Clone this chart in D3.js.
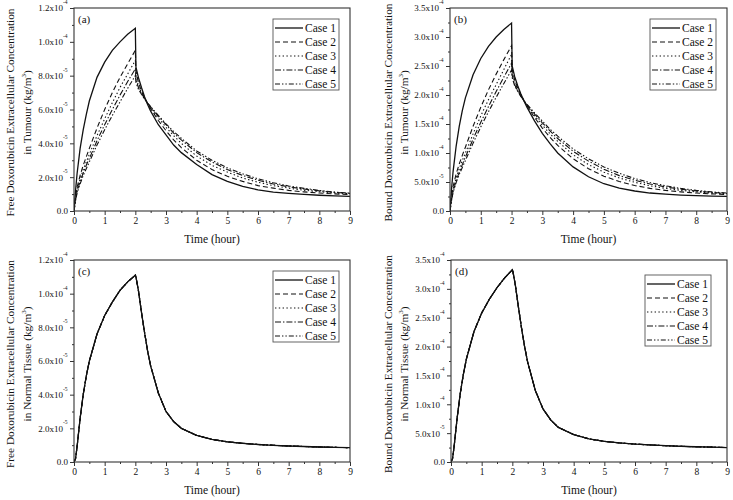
<!DOCTYPE html>
<html>
<head>
<meta charset="utf-8">
<script src="https://cdn.jsdelivr.net/npm/d3@7"></script>
<style>
  html, body { margin: 0; padding: 0; background: #fff; }
  svg { display: block; }
  text { font-family: "Liberation Serif", "Times New Roman", serif; fill: #111; font-weight: normal; }
</style>
</head>
<body>
<svg id="chart" width="733" height="500"></svg>
<script>
// ---------------- DATA (concentrations in units of 1e-5 kg/m^3) ----------------
const times = [0, 0.05, 0.1, 0.2, 0.3, 0.4, 0.5, 0.75, 1, 1.25, 1.5, 1.75, 2,
  2.02, 2.1, 2.2, 2.3, 2.4, 2.5, 2.75, 3, 3.25, 3.5, 4, 4.5, 5, 5.5, 6, 6.5, 7, 7.5, 8, 8.5, 9];

const caseNames = ["Case 1", "Case 2", "Case 3", "Case 4", "Case 5"];

// (a) Free doxorubicin, tumour
const freeTumour1 = [0, 1.2, 2.2, 3.7, 4.8, 5.7, 6.5, 7.9, 8.8, 9.5, 10.0, 10.45, 10.8,
  8.5, 7.9, 7.3, 6.75, 6.3, 5.9, 5.1, 4.5, 3.9, 3.45, 2.75, 2.15, 1.75, 1.45, 1.25, 1.12, 1.04, 0.98, 0.93, 0.9, 0.87];
const freeTumour2 = [0, 0.8, 1.4, 2.1, 2.7, 3.2, 3.7, 4.9, 6.0, 7.0, 7.9, 8.7, 9.5,
  8.3, 7.6, 7.1, 6.7, 6.35, 6.05, 5.35, 4.75, 4.2, 3.75, 3.0, 2.45, 2.05, 1.75, 1.5, 1.35, 1.22, 1.13, 1.06, 1.01, 0.97];
const freeTumour3 = [0, 0.7, 1.25, 1.9, 2.45, 2.9, 3.35, 4.45, 5.45, 6.4, 7.3, 8.1, 8.9,
  8.0, 7.4, 7.0, 6.65, 6.35, 6.1, 5.5, 4.95, 4.45, 4.0, 3.25, 2.7, 2.3, 1.95, 1.7, 1.5, 1.35, 1.23, 1.14, 1.07, 1.02];
const freeTumour4 = [0, 0.65, 1.15, 1.75, 2.25, 2.7, 3.1, 4.15, 5.1, 6.0, 6.85, 7.65, 8.4,
  7.8, 7.3, 6.95, 6.65, 6.38, 6.15, 5.6, 5.1, 4.6, 4.2, 3.45, 2.9, 2.45, 2.1, 1.82, 1.6, 1.43, 1.3, 1.19, 1.1, 1.04];
const freeTumour5 = [0, 0.6, 1.05, 1.6, 2.1, 2.5, 2.9, 3.9, 4.8, 5.65, 6.45, 7.25, 8.0,
  7.6, 7.2, 6.9, 6.62, 6.38, 6.17, 5.65, 5.15, 4.7, 4.3, 3.55, 3.0, 2.55, 2.2, 1.9, 1.67, 1.48, 1.34, 1.22, 1.12, 1.05];

// (b) Bound doxorubicin, tumour
const boundTumour1 = [0, 3.8, 6.8, 11.2, 14.6, 17.3, 19.5, 23.5, 26.3, 28.4, 30.0, 31.3, 32.4,
  25.0, 23.2, 21.6, 20.2, 19.0, 17.9, 15.5, 13.4, 11.6, 10.0, 7.6, 5.9, 4.7, 3.95, 3.45, 3.1, 2.9, 2.75, 2.65, 2.58, 2.52];
const boundTumour2 = [0, 2.4, 4.2, 6.4, 8.1, 9.6, 11.0, 14.6, 17.9, 20.9, 23.6, 26.1, 28.5,
  24.5, 22.6, 21.2, 20.1, 19.1, 18.2, 16.1, 14.3, 12.7, 11.3, 9.0, 7.3, 6.0, 5.1, 4.4, 3.9, 3.55, 3.3, 3.1, 2.95, 2.85];
const boundTumour3 = [0, 2.1, 3.7, 5.7, 7.3, 8.7, 10.0, 13.3, 16.4, 19.2, 21.8, 24.4, 27.0,
  24.0, 22.2, 20.9, 19.9, 19.0, 18.2, 16.4, 14.8, 13.3, 12.0, 9.7, 8.0, 6.7, 5.7, 4.95, 4.35, 3.9, 3.55, 3.3, 3.1, 2.95];
const boundTumour4 = [0, 1.9, 3.4, 5.2, 6.7, 8.0, 9.3, 12.4, 15.3, 18.0, 20.6, 23.1, 25.5,
  23.4, 21.8, 20.7, 19.8, 19.0, 18.3, 16.7, 15.2, 13.8, 12.5, 10.3, 8.6, 7.2, 6.1, 5.3, 4.65, 4.15, 3.75, 3.45, 3.2, 3.02];
const boundTumour5 = [0, 1.8, 3.2, 4.9, 6.3, 7.5, 8.7, 11.7, 14.5, 17.1, 19.6, 22.0, 24.3,
  23.0, 21.6, 20.6, 19.8, 19.05, 18.4, 16.9, 15.5, 14.1, 12.9, 10.7, 9.0, 7.6, 6.5, 5.6, 4.9, 4.35, 3.9, 3.55, 3.3, 3.1];

// (c) Free doxorubicin, normal tissue (all five cases coincide)
const freeNormal = [0, 0.2, 0.9, 2.6, 4.0, 5.1, 6.0, 7.6, 8.7, 9.5, 10.2, 10.7, 11.1,
  11.0, 10.2, 8.9, 7.7, 6.6, 5.7, 4.1, 3.0, 2.4, 2.0, 1.58, 1.34, 1.2, 1.11, 1.04, 0.99, 0.95, 0.92, 0.89, 0.87, 0.85];

// (d) Bound doxorubicin, normal tissue (all five cases coincide)
const boundNormal = [0, 0.6, 2.6, 7.6, 11.8, 15.1, 17.8, 22.6, 25.8, 28.2, 30.2, 31.9, 33.3,
  33.0, 30.6, 26.8, 23.2, 20.0, 17.3, 12.4, 9.2, 7.3, 6.0, 4.75, 4.0, 3.58, 3.3, 3.1, 2.95, 2.82, 2.72, 2.64, 2.57, 2.5];

// Tick values / labels
const xTicks = [0, 1, 2, 3, 4, 5, 6, 7, 8, 9];
const xMinorTicks = [0.5, 1.5, 2.5, 3.5, 4.5, 5.5, 6.5, 7.5, 8.5];

const yTicksFree = [0, 2, 4, 6, 8, 10, 12];
const yMantFree = ["0.0", "2.0x10", "4.0x10", "6.0x10", "8.0x10", "1.0x10", "1.2x10"];
const yExpFree = ["", "-5", "-5", "-5", "-5", "-4", "-4"];
const yMinorFree = [1, 3, 5, 7, 9, 11];

const yTicksBound = [0, 5, 10, 15, 20, 25, 30, 35];
const yMantBound = ["0.0", "5.0x10", "1.0x10", "1.5x10", "2.0x10", "2.5x10", "3.0x10", "3.5x10"];
const yExpBound = ["", "-5", "-4", "-4", "-4", "-4", "-4", "-4"];
const yMinorBound = [2.5, 7.5, 12.5, 17.5, 22.5, 27.5, 32.5];

// ---------------- STYLE / LAYOUT ----------------
const dashes = [null, "5,3", "1.4,2.4", "6,2,1.4,2", "5,2,1.4,2,1.4,2"];
const fontStack = '"Liberation Serif", "Times New Roman", serif';

const panels = [
  { label: "(a)", qx: 0, qy: 0, L: 74, R: 350, T: 8, B: 211, yMax: 12,
    ticks: yTicksFree, mant: yMantFree, exp: yExpFree, minor: yMinorFree,
    title1: "Free Doxorubicin Extracellular Concentration", title2: "in Tumour (kg/m",
    t1x: 10, t2x: 27, legend: [273, 19],
    series: [freeTumour1, freeTumour2, freeTumour3, freeTumour4, freeTumour5] },
  { label: "(b)", qx: 366, qy: 0, L: 450, R: 727, T: 8, B: 211, yMax: 35,
    ticks: yTicksBound, mant: yMantBound, exp: yExpBound, minor: yMinorBound,
    title1: "Bound Doxorubicin Extracellular Concentration", title2: "in Tumour (kg/m",
    t1x: 388, t2x: 404, legend: [650, 19],
    series: [boundTumour1, boundTumour2, boundTumour3, boundTumour4, boundTumour5] },
  { label: "(c)", qx: 0, qy: 250, L: 74, R: 350, T: 260, B: 462, yMax: 12,
    ticks: yTicksFree, mant: yMantFree, exp: yExpFree, minor: yMinorFree,
    title1: "Free Doxorubicin Extracellular Concentration", title2: "in Normal Tissue (kg/m",
    t1x: 10, t2x: 27, legend: [273, 271],
    series: [freeNormal, freeNormal, freeNormal, freeNormal, freeNormal] },
  { label: "(d)", qx: 366, qy: 250, L: 451, R: 727, T: 260, B: 462, yMax: 35,
    ticks: yTicksBound, mant: yMantBound, exp: yExpBound, minor: yMinorBound,
    title1: "Bound Doxorubicin Extracellular Concentration", title2: "in Normal Tissue (kg/m",
    t1x: 388, t2x: 404, legend: [645, 275],
    series: [boundNormal, boundNormal, boundNormal, boundNormal, boundNormal] }
];

const svg = d3.select("#chart");
const defs = svg.append("defs");

panels.forEach((p, pi) => {
  defs.append("clipPath").attr("id", "quad" + pi)
    .append("rect").attr("x", p.qx).attr("y", p.qy).attr("width", 367).attr("height", 250);
  defs.append("clipPath").attr("id", "plot" + pi)
    .append("rect").attr("x", p.L).attr("y", p.T - 2).attr("width", p.R - p.L).attr("height", p.B - p.T + 2);

  const g = svg.append("g").attr("clip-path", `url(#quad${pi})`);

  const x = d3.scaleLinear().domain([0, 9]).range([p.L, p.R]);
  const y = d3.scaleLinear().domain([0, p.yMax]).range([p.B, p.T]);

  // curves
  const line = d3.line().x((d, i) => x(times[i])).y(d => y(d));
  const curves = g.append("g").attr("clip-path", `url(#plot${pi})`);
  for (let k = 4; k >= 0; k--) {
    curves.append("path")
      .datum(p.series[k])
      .attr("d", line)
      .attr("fill", "none")
      .attr("stroke", "#111")
      .attr("stroke-width", k === 0 ? 1.3 : 1.1)
      .attr("stroke-dasharray", dashes[k]);
  }

  // frame
  g.append("rect").attr("x", p.L).attr("y", p.T).attr("width", p.R - p.L).attr("height", p.B - p.T)
    .attr("fill", "none").attr("stroke", "#333").attr("stroke-width", 1.1);

  // x axis major + minor
  const xAx = g.append("g").attr("transform", `translate(0,${p.B})`)
    .call(d3.axisBottom(x).tickValues(xTicks).tickSize(4).tickPadding(2).tickFormat(d3.format("d")));
  xAx.select(".domain").remove();
  xAx.selectAll("line").attr("stroke", "#333");
  xAx.selectAll("text").attr("font-family", fontStack).attr("font-size", 9.5).attr("fill", "#111");
  const xMin = g.append("g").attr("transform", `translate(0,${p.B})`)
    .call(d3.axisBottom(x).tickValues(xMinorTicks).tickSize(2).tickFormat(""));
  xMin.select(".domain").remove();
  xMin.selectAll("line").attr("stroke", "#333");

  // y axis major + minor
  const yAx = g.append("g").attr("transform", `translate(${p.L},0)`)
    .call(d3.axisLeft(y).tickValues(p.ticks).tickSize(4).tickPadding(1).tickFormat(""));
  yAx.select(".domain").remove();
  yAx.selectAll("line").attr("stroke", "#333");
  yAx.selectAll(".tick").each(function (d, i) {
    const t = d3.select(this).append("text")
      .attr("x", p.exp[i] ? -11 : -6).attr("dy", "0.32em")
      .attr("text-anchor", "end")
      .attr("font-family", fontStack).attr("font-size", 9).attr("fill", "#111");
    t.append("tspan").text(p.mant[i]);
    if (p.exp[i]) {
      d3.select(this).append("text")
        .attr("x", -11).attr("y", -4.5)
        .attr("text-anchor", "start")
        .attr("font-family", fontStack).attr("font-size", 5.5).attr("fill", "#111")
        .text(p.exp[i]);
    }
  });
  const yMin = g.append("g").attr("transform", `translate(${p.L},0)`)
    .call(d3.axisLeft(y).tickValues(p.minor).tickSize(2).tickFormat(""));
  yMin.select(".domain").remove();
  yMin.selectAll("line").attr("stroke", "#333");

  // axis titles
  g.append("text").attr("x", (p.L + p.R) / 2).attr("y", p.B + 32)
    .attr("text-anchor", "middle").attr("font-size", 11.5).attr("font-weight", "normal")
    .attr("fill", "#222").text("Time (hour)");

  const cy = (p.T + p.B) / 2 + 3;
  g.append("text").attr("transform", `translate(${p.t1x + 4},${cy}) rotate(-90)`)
    .attr("text-anchor", "middle").attr("font-size", 11.3).text(p.title1);
  const t2 = g.append("text").attr("transform", `translate(${p.t2x + 4},${cy}) rotate(-90)`)
    .attr("text-anchor", "middle").attr("font-size", 11.3);
  t2.append("tspan").text(p.title2);
  t2.append("tspan").attr("font-size", 7).attr("dy", -5).text("3");
  t2.append("tspan").attr("dy", 5).text(")");

  // panel label
  g.append("text").attr("x", p.L + 4).attr("y", p.T + 15).attr("font-size", 11).text(p.label);

  // legend
  const [lx, ly] = p.legend;
  const lg = g.append("g");
  lg.append("rect").attr("x", lx).attr("y", ly).attr("width", 66).attr("height", 71)
    .attr("fill", "#fff").attr("stroke", "#555").attr("stroke-width", 0.9);
  caseNames.forEach((nm, k) => {
    const yy = ly + 9 + 14 * k;
    lg.append("line").attr("x1", lx + 2).attr("x2", lx + 30).attr("y1", yy).attr("y2", yy)
      .attr("stroke", "#111").attr("stroke-width", k === 0 ? 1.3 : 1.1)
      .attr("stroke-dasharray", dashes[k]);
    lg.append("text").attr("x", lx + 32).attr("y", yy).attr("dy", "0.35em")
      .attr("font-size", 11.5).text(nm);
  });
});
</script>
</body>
</html>
